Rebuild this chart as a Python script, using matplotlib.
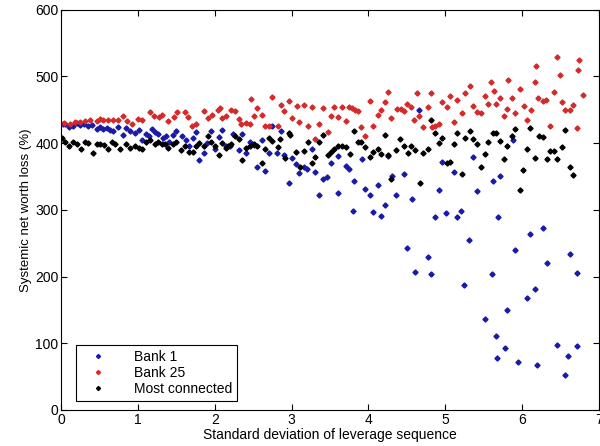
import matplotlib
matplotlib.use("Agg")
import matplotlib.pyplot as plt

plt.rcParams['font.family'] = ['Liberation Sans', 'DejaVu Sans']

# Bank 1 (blue)
bank1_x = [0.02, 0.05, 0.10, 0.16, 0.21, 0.25, 0.30, 0.35, 0.40, 0.46, 0.50, 0.55, 0.59, 0.64,
           0.68, 0.74, 0.81, 0.85, 0.90, 0.96, 1.01, 1.05, 1.10, 1.14, 1.18, 1.22, 1.26, 1.33,
           1.37, 1.41, 1.46, 1.50, 1.57, 1.62, 1.67, 1.72, 1.76, 1.80, 1.86, 1.90, 1.95, 2.00,
           2.06, 2.10, 2.15, 2.20, 2.24, 2.31, 2.35, 2.41, 2.46, 2.51, 2.55, 2.61, 2.65, 2.71,
           2.75, 2.81, 2.86, 2.90, 2.96, 3.01, 3.06, 3.10, 3.16, 3.20, 3.26, 3.30, 3.36, 3.41,
           3.46, 3.51, 3.60, 3.61, 3.71, 3.75, 3.80, 3.81, 3.92, 3.96, 4.02, 4.06, 4.12, 4.16,
           4.22, 4.26, 4.31, 4.36, 4.46, 4.50, 4.57, 4.61, 4.66, 4.77, 4.81, 4.87, 4.92, 4.96,
           5.01, 5.12, 5.15, 5.21, 5.25, 5.31, 5.36, 5.42, 5.52, 5.61, 5.62, 5.66, 5.68, 5.69,
           5.71, 5.78, 5.81, 5.88, 5.91, 5.95, 6.07, 6.11, 6.17, 6.20, 6.27, 6.33, 6.46, 6.56,
           6.60, 6.62, 6.71, 6.72]
bank1_y = [428, 429, 424, 426, 430, 427, 428, 425, 427, 421, 424, 421, 423, 420,
           418, 424, 412, 422, 418, 415, 420, 405, 413, 410, 421, 417, 413, 407,
           411, 402, 412, 418, 410, 404, 396, 408, 416, 375, 386, 400, 418, 392,
           409, 420, 395, 396, 414, 390, 414, 385, 402, 397, 365, 405, 358, 385,
           425, 385, 418, 382, 341, 378, 369, 355, 364, 362, 392, 357, 322, 346,
           350, 370, 325, 381, 366, 362, 298, 343, 376, 331, 323, 297, 337, 291,
           307, 381, 351, 323, 354, 243, 317, 207, 450, 230, 204, 289, 330, 372,
           296, 357, 289, 298, 187, 255, 380, 329, 137, 204, 343, 111, 78, 289,
           351, 93, 150, 404, 240, 72, 168, 264, 181, 67, 273, 221, 97, 53,
           81, 234, 96, 205]

# Bank 25 (red)
bank25_x = [0.03, 0.12, 0.18, 0.25, 0.31, 0.38, 0.46, 0.51, 0.55, 0.61, 0.68, 0.74, 0.81, 0.86,
            0.92, 1.00, 1.05, 1.15, 1.21, 1.27, 1.31, 1.39, 1.47, 1.51, 1.61, 1.65, 1.70, 1.76,
            1.86, 1.91, 1.96, 2.04, 2.07, 2.10, 2.15, 2.21, 2.26, 2.31, 2.34, 2.41, 2.46, 2.47,
            2.51, 2.55, 2.61, 2.66, 2.71, 2.75, 2.82, 2.86, 2.90, 2.96, 3.00, 3.07, 3.10, 3.16,
            3.21, 3.26, 3.30, 3.36, 3.41, 3.47, 3.51, 3.55, 3.61, 3.65, 3.71, 3.75, 3.79, 3.83,
            3.86, 3.91, 3.96, 4.02, 4.06, 4.12, 4.16, 4.22, 4.26, 4.30, 4.37, 4.42, 4.46, 4.50,
            4.56, 4.60, 4.63, 4.66, 4.71, 4.77, 4.81, 4.83, 4.87, 4.92, 4.96, 5.02, 5.06, 5.12,
            5.16, 5.22, 5.26, 5.32, 5.36, 5.41, 5.46, 5.52, 5.56, 5.59, 5.63, 5.66, 5.71, 5.77,
            5.81, 5.82, 5.87, 5.91, 5.97, 6.02, 6.07, 6.12, 6.17, 6.18, 6.21, 6.27, 6.31, 6.36,
            6.42, 6.46, 6.49, 6.52, 6.56, 6.62, 6.67, 6.72, 6.73, 6.74, 6.80]
bank25_y = [430, 429, 431, 431, 433, 434, 433, 436, 434, 434, 434, 434, 441, 433,
            429, 436, 434, 446, 441, 439, 442, 433, 439, 446, 446, 439, 426, 428,
            448, 437, 442, 449, 452, 437, 440, 450, 448, 436, 429, 430, 429, 466,
            441, 452, 442, 426, 426, 469, 426, 457, 448, 463, 437, 456, 431, 457,
            426, 454, 406, 429, 452, 416, 441, 454, 439, 454, 433, 454, 452, 450,
            448, 424, 411, 463, 426, 442, 450, 462, 476, 437, 451, 451, 448, 459,
            454, 434, 475, 440, 424, 454, 475, 424, 426, 429, 461, 454, 471, 431,
            464, 445, 475, 486, 455, 446, 445, 471, 459, 492, 478, 458, 468, 440,
            451, 494, 468, 445, 481, 455, 434, 450, 491, 516, 468, 463, 464, 426,
            476, 529, 502, 461, 449, 450, 457, 423, 509, 525, 472]

# Most connected (black)
most_x = [0.01, 0.05, 0.10, 0.16, 0.20, 0.26, 0.31, 0.35, 0.41, 0.46, 0.51, 0.56, 0.61, 0.66,
          0.70, 0.76, 0.85, 0.89, 0.96, 1.01, 1.05, 1.11, 1.15, 1.22, 1.26, 1.31, 1.35, 1.39,
          1.46, 1.50, 1.56, 1.61, 1.66, 1.71, 1.76, 1.80, 1.86, 1.91, 1.95, 2.00, 2.05, 2.10,
          2.14, 2.17, 2.21, 2.26, 2.31, 2.35, 2.41, 2.46, 2.51, 2.55, 2.61, 2.66, 2.71, 2.75,
          2.82, 2.85, 2.91, 2.96, 2.98, 3.06, 3.11, 3.16, 3.21, 3.26, 3.31, 3.36, 3.41, 3.47,
          3.51, 3.55, 3.61, 3.65, 3.71, 3.76, 3.81, 3.86, 3.91, 3.96, 4.02, 4.06, 4.12, 4.16,
          4.22, 4.26, 4.30, 4.36, 4.41, 4.46, 4.51, 4.56, 4.61, 4.67, 4.71, 4.77, 4.81, 4.87,
          4.92, 4.96, 5.02, 5.06, 5.12, 5.16, 5.22, 5.26, 5.32, 5.36, 5.41, 5.46, 5.52, 5.56,
          5.62, 5.66, 5.71, 5.77, 5.81, 5.87, 5.91, 5.97, 6.01, 6.07, 6.11, 6.17, 6.22, 6.27,
          6.32, 6.36, 6.42, 6.46, 6.52, 6.56, 6.62, 6.67]
most_y = [407, 401, 395, 401, 399, 391, 402, 400, 386, 398, 398, 397, 391, 401,
          399, 392, 398, 393, 396, 393, 391, 402, 405, 399, 402, 398, 399, 393,
          398, 401, 390, 395, 387, 387, 395, 400, 395, 410, 402, 396, 382, 400,
          393, 395, 398, 410, 406, 375, 393, 396, 398, 396, 370, 392, 407, 403,
          394, 406, 378, 415, 412, 387, 365, 389, 401, 371, 380, 401, 412, 383,
          387, 391, 395, 395, 394, 384, 418, 402, 402, 394, 380, 387, 392, 384,
          412, 383, 347, 390, 406, 395, 386, 396, 390, 340, 386, 391, 434, 415,
          400, 407, 371, 372, 398, 415, 354, 407, 418, 406, 399, 365, 384, 402,
          415, 415, 403, 376, 395, 410, 421, 330, 360, 391, 422, 378, 410, 409,
          377, 388, 389, 376, 394, 420, 364, 352]

fig = plt.figure(figsize=(6, 4.46), dpi=100, facecolor='white')
ax = fig.add_axes([0.102, 0.081, 0.896, 0.897])

ax.plot(bank1_x, bank1_y, linestyle='none', marker='D', markersize=2.6,
        color='#1a1aa8', label='Bank 1')
ax.plot(bank25_x, bank25_y, linestyle='none', marker='D', markersize=2.6,
        color='#d42a2a', label='Bank 25')
ax.plot(most_x, most_y, linestyle='none', marker='D', markersize=2.6,
        color='black', label='Most connected')

ax.set_xlim(0, 7)
ax.set_ylim(0, 600)
ax.set_xticks(range(0, 8))
ax.set_yticks(range(0, 601, 100))
ax.tick_params(direction='in', top=True, right=True, labelsize=10, length=4, pad=2)
ax.set_xlabel('Standard deviation of leverage sequence', fontsize=10, labelpad=1)
ax.set_ylabel('Systemic net worth loss (%)', fontsize=9.5, labelpad=2)

leg = ax.legend(loc='lower left', bbox_to_anchor=(0.028, 0.022), fontsize=10,
                frameon=True, fancybox=False, edgecolor='black', framealpha=1,
                borderaxespad=0, handletextpad=1.4, borderpad=0.35, labelspacing=0.15,
                handlelength=2.4, markerscale=0.8)
leg.get_frame().set_linewidth(0.8)

fig.savefig('out.png', dpi=100, facecolor='white')
